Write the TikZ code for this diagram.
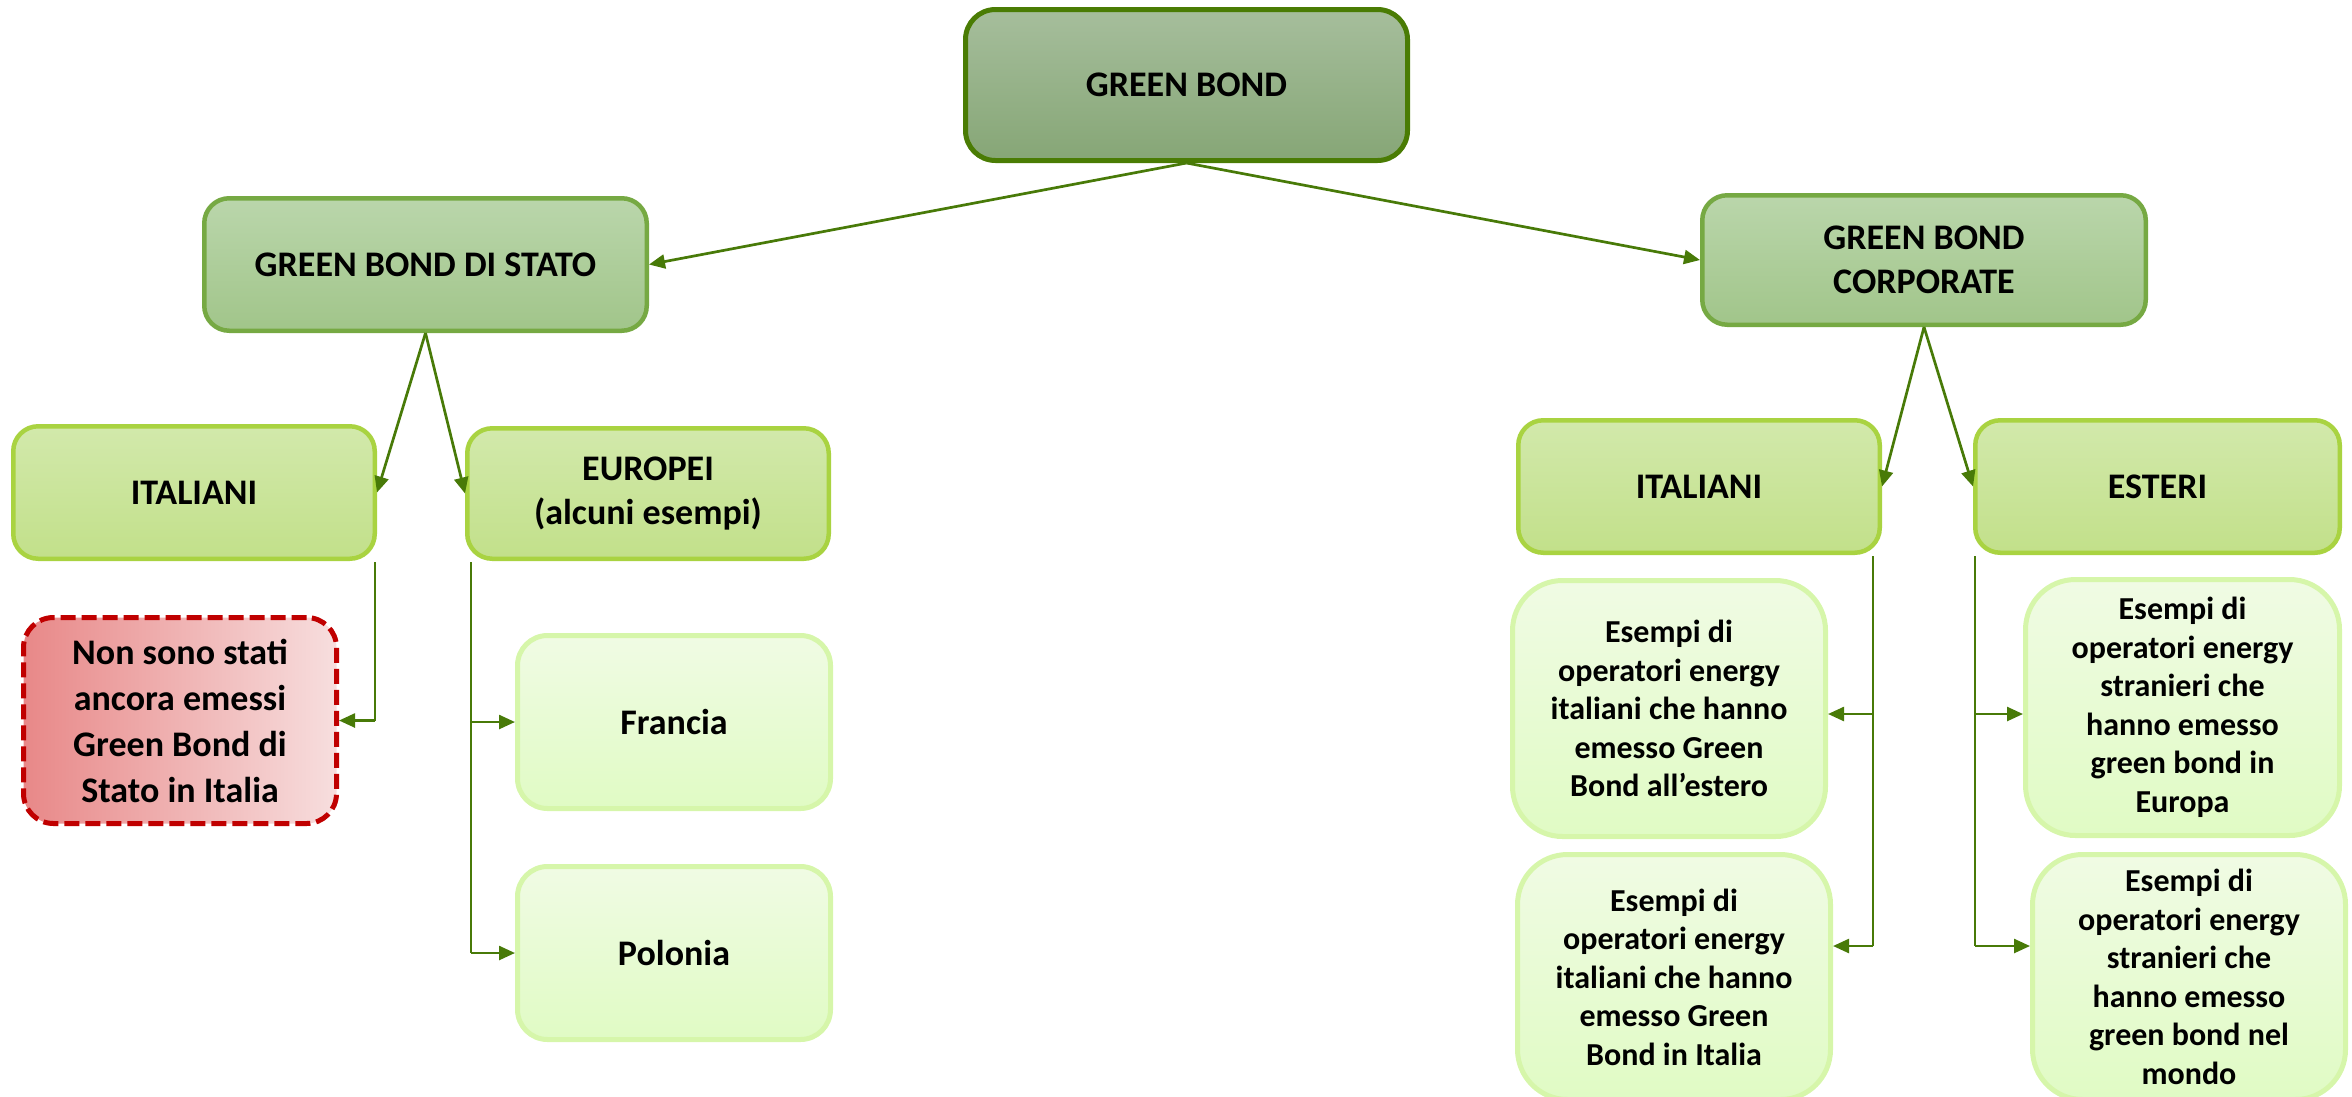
\documentclass[tikz,border=0pt]{standalone}
\usepackage{fontspec}
\setmainfont{Carlito}
\usetikzlibrary{arrows.meta}

% palette
\definecolor{arrowgreen}{RGB}{72,122,8}
\definecolor{gbline}{RGB}{74,124,4}
\definecolor{gbtop}{RGB}{166,190,156}
\definecolor{gbbot}{RGB}{134,166,118}
\definecolor{secline}{RGB}{118,169,67}
\definecolor{sectop}{RGB}{186,214,171}
\definecolor{secbot}{RGB}{161,197,138}
\definecolor{midline}{RGB}{169,211,65}
\definecolor{midtop}{RGB}{210,233,171}
\definecolor{midbot}{RGB}{194,224,138}
\definecolor{leafline}{RGB}{214,246,170}
\definecolor{leaftop}{RGB}{240,251,228}
\definecolor{leafbot}{RGB}{224,251,196}
\definecolor{noline}{RGB}{192,0,0}
\definecolor{noleft}{RGB}{232,136,136}
\definecolor{noright}{RGB}{247,222,222}

\begin{document}
\begin{tikzpicture}[x=1pt,y=-1pt,
  base/.style={rectangle, align=center, inner sep=0pt, text=black,
    font=\bfseries\fontsize{36}{44}\selectfont},
  rootbox/.style={base, draw=gbline, line width=5pt, rounded corners=30pt,
    top color=gbtop, bottom color=gbbot},
  secbox/.style={base, draw=secline, line width=4.5pt, rounded corners=25pt,
    top color=sectop, bottom color=secbot},
  midbox/.style={base, draw=midline, line width=4.5pt, rounded corners=25pt,
    top color=midtop, bottom color=midbot},
  leafbox/.style={base, draw=leafline, line width=5pt, rounded corners=30pt,
    top color=leaftop, bottom color=leafbot},
  examplebox/.style={leafbox, rounded corners=50pt,
    font=\bfseries\fontsize{32}{38.5}\selectfont},
  nobox/.style={base, draw=noline, line width=5pt, dash pattern=on 15pt off 6pt,
    rounded corners=30pt, left color=noleft, right color=noright,
    font=\bfseries\fontsize{36}{46}\selectfont},
  tip/.style={-{Triangle[length=16pt,width=14pt]}},
  mainarrow/.style={tip, draw=arrowgreen, fill=arrowgreen, line width=2.7pt},
  vline/.style={draw=arrowgreen, line width=1.5pt},
  harrow/.style={tip, draw=arrowgreen, fill=arrowgreen, line width=2.5pt}
]
\useasboundingbox (0,0) rectangle (2352,1096);

% top level
\node[rootbox, minimum width=442pt, minimum height=151pt] (GB) at (1186.5,85) {GREEN BOND};

% second level
\node[secbox, minimum width=442.5pt, minimum height=132.5pt] (GBDS) at (425.5,264.5) {GREEN BOND DI STATO};
\node[secbox, minimum width=443.5pt, minimum height=129.5pt] (GBC) at (1924,260) {GREEN BOND\\CORPORATE};

% third level
\node[midbox, minimum width=361.5pt, minimum height=132.5pt] (ITL) at (194,492.5) {ITALIANI};
\node[midbox, minimum width=361.5pt, minimum height=130.5pt] (EUR) at (648,493.5) {EUROPEI\\(alcuni esempi)};
\node[midbox, minimum width=361.5pt, minimum height=132.5pt] (ITR) at (1699,486.5) {ITALIANI};
\node[midbox, minimum width=364.5pt, minimum height=132.5pt] (EST) at (2157.5,486.5) {ESTERI};

% leaves
\node[nobox, minimum width=313pt, minimum height=206pt] (NON) at (180,720.5)
  {Non sono stati\\ancora emessi\\Green Bond di\\Stato in Italia};
\node[leafbox, minimum width=313pt, minimum height=173pt] (FRA) at (674,722) {Francia};
\node[leafbox, minimum width=313pt, minimum height=173pt] (POL) at (674,953) {Polonia};

\node[examplebox, minimum width=313pt, minimum height=256pt] (IT1) at (1669,708.5)
  {Esempi di\\operatori energy\\italiani che hanno\\emesso Green\\Bond all’estero};
\node[examplebox, minimum width=313pt, minimum height=245pt] (IT2) at (1674,977)
  {Esempi di\\operatori energy\\italiani che hanno\\emesso Green\\Bond in Italia};
\node[examplebox, minimum width=314pt, minimum height=256pt] (ES1) at (2182.5,707.5)
  {Esempi di\\operatori energy\\stranieri che\\hanno emesso\\green bond in\\Europa};
\node[examplebox, minimum width=313pt, minimum height=245pt] (ES2) at (2189,977)
  {Esempi di\\operatori energy\\stranieri che\\hanno emesso\\green bond nel\\mondo};

% hierarchy arrows
\draw[mainarrow] (GB.south) -- (GBDS.east);
\draw[mainarrow] (GB.south) -- (GBC.west);
\draw[mainarrow] (GBDS.south) -- (ITL.east);
\draw[mainarrow] (GBDS.south) -- (EUR.west);
\draw[mainarrow] (GBC.south) -- (ITR.east);
\draw[mainarrow] (GBC.south) -- (EST.west);

% elbow connectors to the leaves
\coordinate (itl-a) at (375,562);
\coordinate (eur-a) at (471,562);
\coordinate (itr-a) at (1873,556);
\coordinate (est-a) at (1975,556);

\draw[vline] (itl-a) -- (itl-a |- NON.east);
\draw[harrow] (itl-a |- NON.east) -- (NON.east);

\draw[vline] (eur-a) -- (eur-a |- POL.west);
\draw[harrow] (eur-a |- FRA.west) -- (FRA.west);
\draw[harrow] (eur-a |- POL.west) -- (POL.west);

\coordinate (it1-in) at ([yshift=-5.5pt]IT1.east);
\coordinate (it2-in) at ([yshift=31pt]IT2.east);
\draw[vline] (itr-a) -- (itr-a |- it2-in);
\draw[harrow] (itr-a |- it1-in) -- (it1-in);
\draw[harrow] (itr-a |- it2-in) -- (it2-in);

\coordinate (es1-in) at ([yshift=-6.5pt]ES1.west);
\coordinate (es2-in) at ([yshift=31pt]ES2.west);
\draw[vline] (est-a) -- (est-a |- es2-in);
\draw[harrow] (est-a |- es1-in) -- (es1-in);
\draw[harrow] (est-a |- es2-in) -- (es2-in);
\end{tikzpicture}
\end{document}
